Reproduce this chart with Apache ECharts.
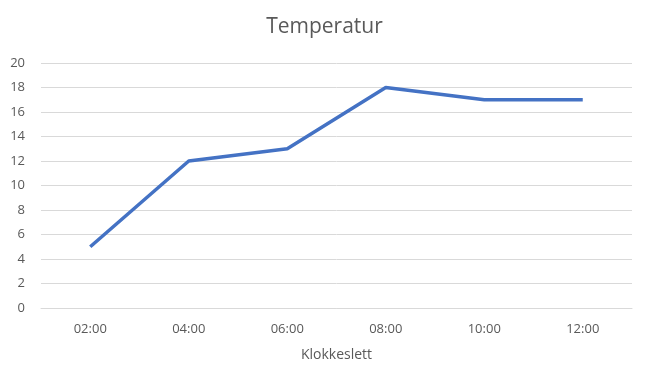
<!DOCTYPE html>
<html><head><meta charset="utf-8">
<script src="https://cdn.jsdelivr.net/npm/echarts@6/dist/echarts.min.js"></script>
<style>html,body{margin:0;padding:0;background:#fff}#c{width:649px;height:387px}</style>
</head><body><div id="c"></div>
<script>
var categories = ['02:00','04:00','06:00','08:00','10:00','12:00'];
var temperatures = [5, 12, 13, 18, 17, 17];
var chart = echarts.init(document.getElementById('c'));
var font = 'Open Sans';
chart.setOption({
  animation: false,
  title: { text: 'Temperatur', left: 'center', top: 12,
    textStyle: { fontFamily: font, fontSize: 21, fontWeight: 'normal', color: '#595959' } },
  grid: { left: 41, right: 17, top: 63, bottom: 79 },
  xAxis: { type: 'category', data: categories, boundaryGap: true,
    name: 'Klokkeslett', nameLocation: 'middle', nameGap: 40,
    nameTextStyle: { fontFamily: font, fontSize: 14, color: '#595959' },
    axisLine: { show: true, lineStyle: { color: '#d9d9d9' } }, axisTick: { show: false },
    axisLabel: { fontFamily: font, fontSize: 13, color: '#595959', margin: 15 } },
  yAxis: { type: 'value', min: 0, max: 20, interval: 2,
    axisLine: { show: false }, axisTick: { show: false },
    axisLabel: { fontFamily: font, fontSize: 13, color: '#595959', margin: 16 },
    splitLine: { lineStyle: { color: '#d9d9d9' } } },
  series: [{ type: 'line', data: temperatures, symbol: 'none',
    lineStyle: { color: '#4472C4', width: 3.5 } }]
});
</script></body></html>
